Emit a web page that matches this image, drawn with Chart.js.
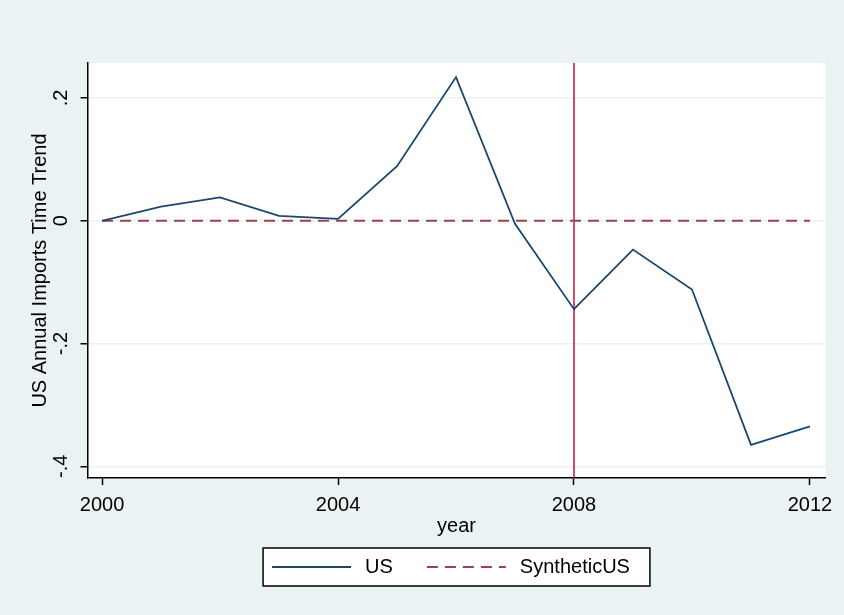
<!DOCTYPE html>
<html lang="en">
<head>
    <meta charset="UTF-8">
    <title>US Annual Imports Time Trend</title>
    <script src="https://cdn.jsdelivr.net/npm/chart.js"></script>
    <style>
        body {
            margin: 0;
            background-color: #eaf2f3;
        }
        #chartBox {
            width: 844px;
            height: 615px;
        }
    </style>
</head>
<body>
<div id="chartBox">
    <canvas id="trendChart" width="844" height="615"></canvas>
</div>

<script>
    // data
    const years = [2000, 2001, 2002, 2003, 2004, 2005, 2006, 2007, 2008, 2009, 2010, 2011, 2012];
    const usValues = [0, 0.023, 0.038, 0.008, 0.003, 0.089, 0.234, -0.005, -0.144, -0.047, -0.112, -0.365, -0.335];
    const syntheticValues = [0, 0, 0, 0, 0, 0, 0, 0, 0, 0, 0, 0, 0];
    const xTickValues = [2000, 2004, 2008, 2012];
    const yTickValues = [0.2, 0, -0.2, -0.4];
    const yTickLabels = ['.2', '0', '-.2', '-.4'];
    const treatYear = 2008;

    const bgColor = '#eaf2f3';
    const fontFamily = "'Liberation Sans', Arial, sans-serif";

    function toPoints(vals) {
        return years.map((yr, i) => ({ x: yr, y: vals[i] }));
    }

    // background + white plot region
    const backdrop = {
        id: 'backdrop',
        beforeDraw(chart) {
            const { ctx, chartArea: a } = chart;
            ctx.save();
            ctx.fillStyle = bgColor;
            ctx.fillRect(0, 0, chart.width, chart.height);
            ctx.fillStyle = '#ffffff';
            ctx.fillRect(a.left, a.top, a.right - a.left, a.bottom - a.top);
            ctx.restore();
        }
    };

    // vertical line at the treatment year
    const treatLine = {
        id: 'treatLine',
        beforeDatasetsDraw(chart) {
            const { ctx, chartArea: a, scales } = chart;
            const x = scales.x.getPixelForValue(treatYear);
            ctx.save();
            ctx.strokeStyle = '#c8103e';
            ctx.lineWidth = 1.5;
            ctx.beginPath();
            ctx.moveTo(x, a.top);
            ctx.lineTo(x, a.bottom);
            ctx.stroke();
            ctx.restore();
        }
    };

    // boxed legend under the axis title
    const boxLegend = {
        id: 'boxLegend',
        afterDraw(chart) {
            const { ctx, chartArea: a } = chart;
            const sets = chart.data.datasets.filter(d => d.label);
            ctx.save();
            ctx.font = '20px ' + fontFamily;
            const sample = 79, gapText = 14, gapItem = 34, padL = 9, padR = 20;
            let w = padL + padR;
            sets.forEach((d, i) => {
                w += sample + gapText + ctx.measureText(d.label).width;
                if (i < sets.length - 1) w += gapItem;
            });
            const h = 38;
            const left = (a.left + a.right) / 2 - w / 2;
            const top = a.bottom + 70;
            ctx.fillStyle = '#ffffff';
            ctx.fillRect(left, top, w, h);
            ctx.strokeStyle = '#000000';
            ctx.lineWidth = 1.5;
            ctx.strokeRect(left, top, w, h);
            const cy = top + h / 2;
            let x = left + padL;
            sets.forEach(d => {
                ctx.strokeStyle = d.borderColor;
                ctx.lineWidth = d.borderWidth;
                ctx.setLineDash(d.borderDash || []);
                ctx.beginPath();
                ctx.moveTo(x, cy);
                ctx.lineTo(x + sample, cy);
                ctx.stroke();
                ctx.setLineDash([]);
                x += sample + gapText;
                ctx.fillStyle = '#000000';
                ctx.textBaseline = 'middle';
                ctx.fillText(d.label, x, cy);
                x += ctx.measureText(d.label).width + gapItem;
            });
            ctx.restore();
        }
    };

    const ctx = document.getElementById('trendChart').getContext('2d');
    new Chart(ctx, {
        type: 'line',
        data: {
            datasets: [
                {
                    label: 'US',
                    data: toPoints(usValues),
                    borderColor: '#1a476f',
                    borderWidth: 1.8,
                    pointRadius: 0,
                    tension: 0
                },
                {
                    label: 'SyntheticUS',
                    data: toPoints(syntheticValues),
                    borderColor: '#a0404a',
                    borderWidth: 1.8,
                    borderDash: [11, 7],
                    pointRadius: 0,
                    tension: 0
                }
            ]
        },
        options: {
            responsive: false,
            animation: false,
            layout: {
                padding: { top: 63, right: 18.5, left: 0, bottom: 0 }
            },
            plugins: {
                legend: { display: false },
                tooltip: { enabled: false }
            },
            scales: {
                x: {
                    type: 'linear',
                    min: 1999.754,
                    max: 2012.263,
                    afterBuildTicks: s => { s.ticks = xTickValues.map(v => ({ value: v })); },
                    afterFit: s => { s.height = 137; },
                    ticks: {
                        color: '#000',
                        font: { family: fontFamily, size: 20 },
                        padding: 8,
                        maxRotation: 0,
                        callback: v => String(v)
                    },
                    grid: {
                        drawOnChartArea: false,
                        tickColor: '#000',
                        tickLength: 7,
                        tickWidth: 1.5
                    },
                    border: { color: '#000', width: 1.5 },
                    title: {
                        display: true,
                        text: 'year',
                        color: '#000',
                        font: { family: fontFamily, size: 20 },
                        padding: { top: 0, bottom: 76.5 }
                    }
                },
                y: {
                    min: -0.419,
                    max: 0.257,
                    afterBuildTicks: s => { s.ticks = yTickValues.map(v => ({ value: v })); },
                    afterFit: s => { s.width = 87.5; },
                    ticks: {
                        color: '#000',
                        font: { family: fontFamily, size: 20 },
                        padding: 7,
                        minRotation: 90,
                        maxRotation: 90,
                        crossAlign: 'center',
                        callback: v => yTickLabels[yTickValues.indexOf(v)]
                    },
                    grid: {
                        color: bgColor,
                        lineWidth: 1.5,
                        tickColor: '#000',
                        tickLength: 7,
                        tickWidth: 1.5
                    },
                    border: { color: '#000', width: 1.5 },
                    title: {
                        display: true,
                        text: 'US Annual Imports Time Trend',
                        color: '#000',
                        font: { family: fontFamily, size: 20 },
                        padding: { top: 28, bottom: 0 }
                    }
                }
            }
        },
        plugins: [backdrop, treatLine, boxLegend]
    });
</script>
</body>
</html>
